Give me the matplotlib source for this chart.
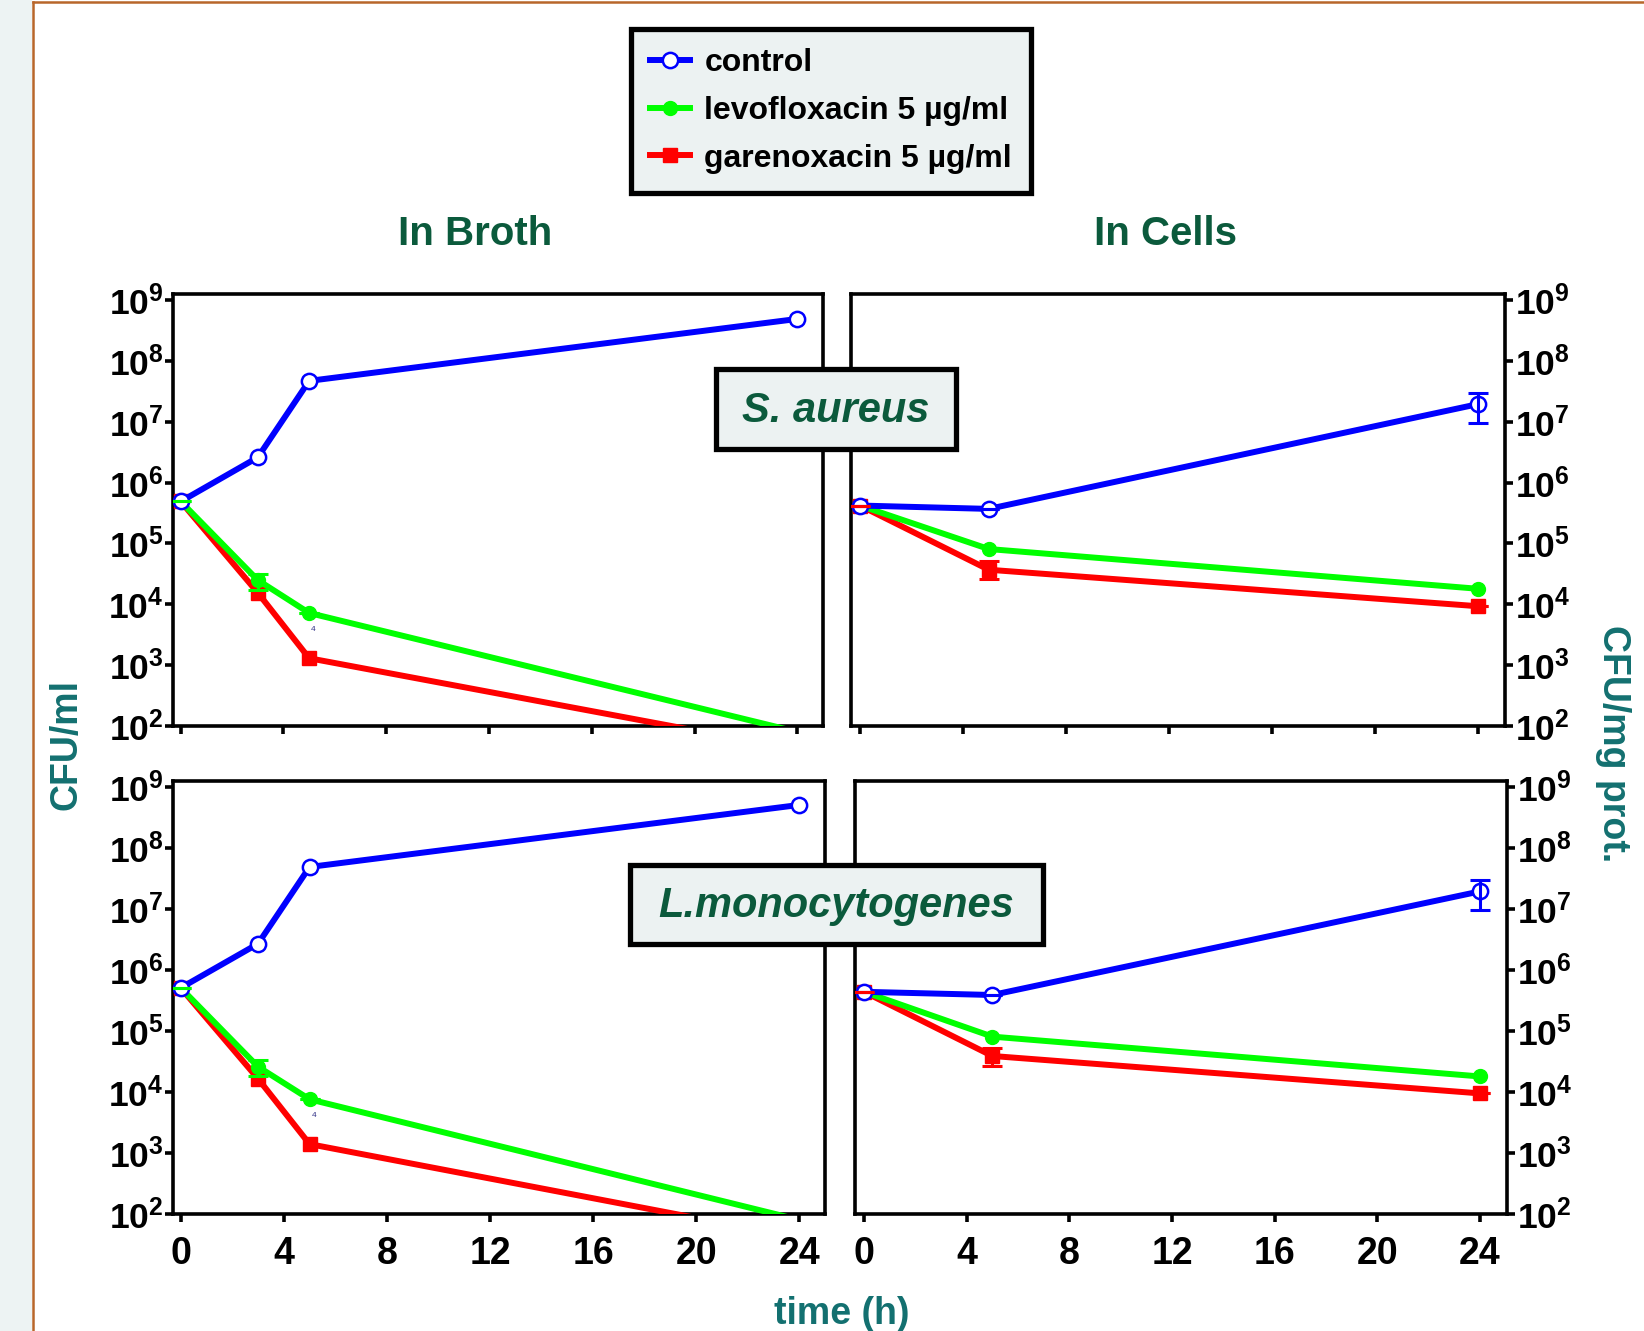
import numpy as np
import matplotlib
matplotlib.use('Agg')
import matplotlib.pyplot as plt
from matplotlib.patches import Rectangle
from matplotlib.lines import Line2D

# ---------------- data ----------------
series_names = ['control', 'levofloxacin 5 µg/ml', 'garenoxacin 5 µg/ml']
series_colors = ['#0000FF', '#00FF00', '#FF0000']

broth_t = [0, 3, 5, 24]
cells_t = [0, 5, 24]

# S. aureus, in broth (CFU/ml)
sa_broth_control = [4.9e5, 2.6e6, 4.7e7, 4.9e8]
sa_broth_levo = [4.9e5, 2.5e4, 7.2e3, 80]
sa_broth_gar = [4.9e5, 1.55e4, 1.3e3, 41]
sa_broth_levo_err_lo = [0, 8e3, 0, 0]
sa_broth_levo_err_hi = [0, 7e3, 0, 0]

# S. aureus, in cells (CFU/mg prot.)
sa_cells_control = [4.2e5, 3.7e5, 1.95e7]
sa_cells_levo = [4.2e5, 8.1e4, 1.8e4]
sa_cells_gar = [4.2e5, 3.7e4, 9.3e3]
sa_cells_control_err_lo = [0, 0, 1.0e7]
sa_cells_control_err_hi = [0, 0, 1.07e7]
sa_cells_gar_err_lo = [0, 1.1e4, 0]
sa_cells_gar_err_hi = [0, 1.4e4, 0]

# L. monocytogenes, in broth (CFU/ml)
lm_broth_control = [5.1e5, 2.7e6, 4.9e7, 5.1e8]
lm_broth_levo = [5.1e5, 2.6e4, 7.6e3, 80]
lm_broth_gar = [5.1e5, 1.65e4, 1.4e3, 41]
lm_broth_levo_err_lo = [0, 8e3, 0, 0]
lm_broth_levo_err_hi = [0, 7e3, 0, 0]

# L. monocytogenes, in cells (CFU/mg prot.)
lm_cells_control = [4.4e5, 3.9e5, 1.95e7]
lm_cells_levo = [4.4e5, 8.1e4, 1.8e4]
lm_cells_gar = [4.4e5, 3.9e4, 9.5e3]
lm_cells_control_err_lo = [0, 0, 1.0e7]
lm_cells_control_err_hi = [0, 0, 1.07e7]
lm_cells_gar_err_lo = [0, 1.2e4, 0]
lm_cells_gar_err_hi = [0, 1.4e4, 0]

x_ticks = [0, 4, 8, 12, 16, 20, 24]
y_exponents = [2, 3, 4, 5, 6, 7, 8, 9]

col_titles = ['In Broth', 'In Cells']
species = ['S. aureus', 'L.monocytogenes']

# ---------------- style ----------------
plt.rcParams['font.family'] = ['Liberation Sans', 'DejaVu Sans']
plt.rcParams['mathtext.fontset'] = 'custom'
plt.rcParams['mathtext.rm'] = 'Liberation Sans'
plt.rcParams['mathtext.bf'] = 'Liberation Sans:bold'
plt.rcParams['mathtext.it'] = 'Liberation Sans:italic'

W, H = 1644, 1331
fig = plt.figure(figsize=(W / 100, H / 100), dpi=100)
fig.patch.set_facecolor('white')

# page decoration
fig.patches.append(Rectangle((0, 0), 32 / W, 1, transform=fig.transFigure,
                             facecolor='#EDF3F3', edgecolor='none', zorder=0))
fig.lines.append(Line2D([32.5 / W, 32.5 / W], [0, 1 - 1.5 / H], transform=fig.transFigure,
                        color='#B8662A', lw=1.8))
fig.lines.append(Line2D([32.5 / W, 1], [1 - 1.5 / H, 1 - 1.5 / H], transform=fig.transFigure,
                        color='#B8662A', lw=1.8))

def fx(px):
    return px / W

def fy(py):
    return 1 - py / H

ax_tl = fig.add_axes([fx(173), fy(726), 650 / W, 432 / H])
ax_tr = fig.add_axes([fx(851), fy(726), 654 / W, 432 / H])
ax_bl = fig.add_axes([fx(173), fy(1214), 652 / W, 433 / H])
ax_br = fig.add_axes([fx(855), fy(1214), 652 / W, 433 / H])

LW = 4.3
mk = dict(control=dict(marker='o', ms=11, mfc='white', mec='#0000FF', mew=1.8),
          levo=dict(marker='o', ms=10, mfc='#00FF00', mec='#00FF00', mew=1),
          gar=dict(marker='s', ms=10, mfc='#FF0000', mec='#FF0000', mew=1))

ymin, ymax = 1e2, 10 ** 9.1


def visible_marks(vals):
    return [i for i, v in enumerate(vals) if v >= ymin]


def draw_panel(ax, t, control, levo, gar, xlim, right=False, xlabels=False,
               errs=(), note=False):
    ax.plot(t, gar, color='#FF0000', lw=LW, zorder=3, markevery=visible_marks(gar), **mk['gar'])
    ax.plot(t, levo, color='#00FF00', lw=LW, zorder=4, markevery=visible_marks(levo), **mk['levo'])
    ax.plot(t, control, color='#0000FF', lw=LW, zorder=5, markevery=visible_marks(control), **mk['control'])
    for vals, lo, hi, c in errs:
        ax.errorbar(t, vals, yerr=[lo, hi], fmt='none', ecolor=c, elinewidth=2.2,
                    capsize=7, capthick=2.2, zorder=6)
    if note:
        ax.annotate('4', xy=(t[2], levo[2]), xytext=(3, -12), textcoords='offset points',
                    fontsize=6, color='#333388', ha='center', va='center')
    ax.set_yscale('log')
    ax.set_ylim(ymin, ymax)
    ax.set_xlim(*xlim)
    ax.set_yticks([10.0 ** e for e in y_exponents])
    ax.set_yticklabels([r'$\mathbf{10^{%d}}$' % e for e in y_exponents])
    ax.yaxis.set_minor_locator(matplotlib.ticker.NullLocator())
    ax.set_xticks(x_ticks)
    if xlabels:
        ax.set_xticklabels([str(v) for v in x_ticks],
                           fontdict=dict(family=['Liberation Sans Narrow', 'Liberation Sans'],
                                         weight='bold', size=27))
        for lab in ax.get_xticklabels():
            lab.set_x(lab.get_position()[0])
    else:
        ax.set_xticklabels([])
    for s in ax.spines.values():
        s.set_linewidth(2.6)
    ax.tick_params(axis='both', which='major', length=6, width=2.6, direction='out',
                   color='black')
    ax.tick_params(axis='y', labelsize=25.5, pad=1)
    ax.tick_params(axis='x', pad=10)
    if right:
        ax.yaxis.tick_right()
    ax.set_facecolor('white')


draw_panel(ax_tl, broth_t, sa_broth_control, sa_broth_levo, sa_broth_gar, (-0.3, 25.0),
           errs=[(sa_broth_levo, sa_broth_levo_err_lo, sa_broth_levo_err_hi, '#00FF00')], note=True)
draw_panel(ax_tr, cells_t, sa_cells_control, sa_cells_levo, sa_cells_gar, (-0.35, 25.05), right=True,
           errs=[(sa_cells_control, sa_cells_control_err_lo, sa_cells_control_err_hi, '#0000FF'),
                 (sa_cells_gar, sa_cells_gar_err_lo, sa_cells_gar_err_hi, '#FF0000')])
draw_panel(ax_bl, broth_t, lm_broth_control, lm_broth_levo, lm_broth_gar, (-0.3, 25.0), xlabels=True,
           errs=[(lm_broth_levo, lm_broth_levo_err_lo, lm_broth_levo_err_hi, '#00FF00')], note=True)
draw_panel(ax_br, cells_t, lm_cells_control, lm_cells_levo, lm_cells_gar, (-0.35, 25.05), right=True,
           xlabels=True,
           errs=[(lm_cells_control, lm_cells_control_err_lo, lm_cells_control_err_hi, '#0000FF'),
                 (lm_cells_gar, lm_cells_gar_err_lo, lm_cells_gar_err_hi, '#FF0000')])

# column titles
title_color = '#0B5A3C'
fig.text(fx(475), fy(234), col_titles[0], ha='center', va='center', fontsize=29,
         fontweight='bold', color=title_color)
fig.text(fx(1165), fy(234), col_titles[1], ha='center', va='center', fontsize=29,
         fontweight='bold', color=title_color)

# axis labels
lab_color = '#137070'
fig.text(fx(66), fy(744), 'CFU/ml', rotation=90, ha='center', va='center', fontsize=27,
         fontweight='bold', color=lab_color)
fig.text(fx(1613), fy(744), 'CFU/mg prot.', rotation=270, ha='center', va='center', fontsize=27,
         fontweight='bold', color=lab_color)
fig.text(fx(842), fy(1314), 'time (h)', ha='center', va='center', fontsize=27,
         fontweight='bold', color=lab_color)

# species boxes
box_fc = '#ECF2F2'
for (x0, y0, x1, y1), name in zip([(716, 369, 956, 449), (630, 865, 1043, 944)], species):
    fig.patches.append(Rectangle((fx(x0), fy(y1)), (x1 - x0) / W, (y1 - y0) / H,
                                 transform=fig.transFigure, facecolor=box_fc,
                                 edgecolor='black', lw=3.8, zorder=10))
    fig.text(fx((x0 + x1) / 2), fy((y0 + y1) / 2 + 2), name, ha='center', va='center',
             fontsize=30, fontweight='bold', fontstyle='italic', color=title_color, zorder=11)

# legend
handles = [Line2D([], [], color=c, lw=LW, **mk[k]) for c, k in
           zip(series_colors, ['control', 'levo', 'gar'])]
leg = fig.legend(handles, series_names, loc='center', bbox_to_anchor=(fx(831), fy(111)),
                 prop=dict(family='Liberation Sans', weight='bold', size=23),
                 frameon=True, fancybox=False, framealpha=1, facecolor=box_fc,
                 edgecolor='black', handlelength=1.25, handletextpad=0.45,
                 labelspacing=0.55, borderpad=0.6, borderaxespad=0, numpoints=1)
leg.get_frame().set_linewidth(3.8)

fig.savefig('out.png', dpi=100, facecolor='white')
